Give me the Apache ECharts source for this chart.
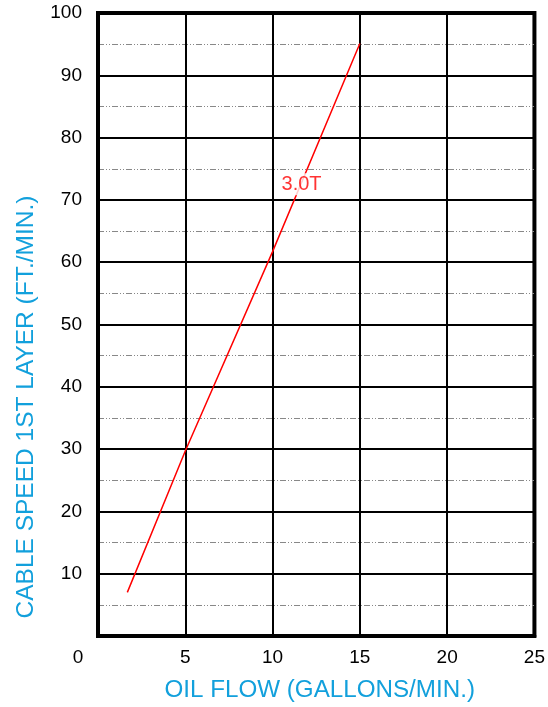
<!DOCTYPE html>
<html>
<head>
<meta charset="utf-8">
<script src="https://cdn.jsdelivr.net/npm/echarts@6/dist/echarts.min.js"></script>
<style>
  html, body { margin: 0; padding: 0; background: #fff; }
  #chart { width: 548px; height: 707px; }
</style>
</head>
<body>
<div id="chart"></div>
<script>
// 数据
var lineData = [[1.68, 7.0], [5, 29.7], [10, 61.7], [15, 95.1]];   // 3.0T 线
var labelPoint = [[11.66, 72.5]];          // 3.0T 标签位置
var labelText = "3.0T";
var xName = "OIL FLOW (GALLONS/MIN.)";
var yName = "CABLE SPEED 1ST LAYER (FT./MIN.)";

var blue = "#12a0dc";
var myChart = echarts.init(document.getElementById("chart"));

var option = {
	animation: false,
	grid: {
		left: 98,
		right: 12.7,
		top: 13,
		bottom: 70,
		show: true,
		borderColor: "#000",
		borderWidth: 4
	},
	xAxis: {
		type: "value",
		min: 0,
		max: 25,
		interval: 5,
		name: xName,
		nameLocation: "middle",
		nameGap: 42,
		nameTextStyle: { color: blue, fontSize: 24.2, fontFamily: "Liberation Sans", padding: [0, 0, 0, 7] },
		axisLine: { show: true, lineStyle: { color: "#000", width: 4 } },
		axisTick: { show: false },
		axisLabel: {
			margin: 12,
			color: "#000",
			fontSize: 19,
			fontFamily: "Liberation Sans",
			formatter: function (v) {
				return v === 0 ? "{z|0}" : String(v);
			},
			rich: {
				z: { fontSize: 19, fontFamily: "Liberation Sans", color: "#000", padding: [0, 40, 0, 0] }
			}
		},
		splitLine: { show: true, lineStyle: { color: "#000", width: 2 } }
	},
	yAxis: {
		type: "value",
		min: 0,
		max: 100,
		interval: 10,
		name: yName,
		nameLocation: "middle",
		nameGap: 59,
		nameTextStyle: { color: blue, fontSize: 24.5, fontFamily: "Liberation Sans", padding: [0, 165, 0, 0] },
		axisLine: { show: true, lineStyle: { color: "#000", width: 4 } },
		axisTick: { show: false },
		axisLabel: {
			margin: 16,
			color: "#000",
			fontSize: 19,
			fontFamily: "Liberation Sans",
			formatter: function (v) {
				return v === 0 ? "" : String(v);
			}
		},
		splitLine: { show: true, lineStyle: { color: "#000", width: 2 } },
		minorTick: { show: false, splitNumber: 2 },
		minorSplitLine: {
			show: true,
			lineStyle: { color: "#888", width: 1, type: [6, 2, 1, 2, 1, 2] }
		}
	},
	series: [{
		type: "line",
		data: lineData,
		symbol: "none",
		lineStyle: { color: "#ff0000", width: 1.5 },
		z: 3
	}, {
		type: "scatter",
		data: labelPoint,
		symbolSize: 0,
		z: 5,
		label: {
			show: true,
			position: "inside",
			formatter: labelText,
			color: "#ff0000",
			fontSize: 20,
			fontFamily: "Liberation Sans",
			backgroundColor: "#fff",
			padding: [1, 1, 1, 1]
		}
	}]
};
myChart.setOption(option);
</script>
</body>
</html>
